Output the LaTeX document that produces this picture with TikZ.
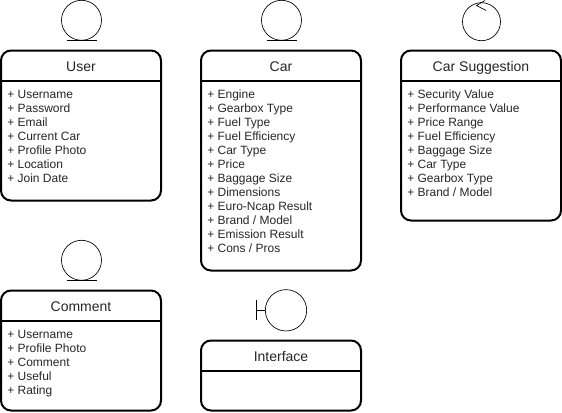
\documentclass[tikz,border=0pt]{standalone}
\usepackage{fontspec}
\setmainfont{Liberation Sans}
\usetikzlibrary{calc}

\tikzset{
  classbox/.style={draw, line width=1.5pt, rounded corners=7.5pt, minimum width=120pt, outer sep=0pt},
  classtitle/.style={font=\fontsize{10.5}{12}\selectfont, text=black!85, inner sep=0pt, anchor=base},
  attrib/.style={font=\fontsize{9}{10.5}\selectfont, text=black!85, anchor=base west, inner sep=0pt},
  glyph/.style={draw, line width=.5pt, circle, minimum size=30pt, inner sep=0pt, outer sep=0pt},
  glyphline/.style={line width=.5pt}
}

\begin{document}
\begin{tikzpicture}[x=.75pt, y=-.75pt]
\useasboundingbox (0,0) rectangle (562,412);

% class boxes: name, centre x, top y, height, title
\foreach \name/\cx/\ytop/\h/\title in {user/81/50.5/150/User, car/281/50.5/220/Car, suggestion/481/50.5/170/Car Suggestion, comment/81/290.5/120/Comment, interface/281/340.5/70/Interface} {
 \node[classbox, minimum height=\h*.75pt] (\name) at (\cx,\ytop+\h/2) {};
 \draw[line width=1.5pt] ($(\name.north west)+(0,-30pt*.75)$) -- ($(\name.north east)+(0,-30pt*.75)$);
 \node[classtitle] (\name title) at ($(\name.north)+(0,-20.5pt*.75)$) {\title};
}

% attributes
\foreach \x [count=\i] in {Username, Password, Email, Current Car, Profile Photo, Location, Join Date} {
 \node[attrib] (userattr\i) at (7,84+14*\i) {+ \x};
}
\foreach \x [count=\i] in {Engine, Gearbox Type, Fuel Type, Fuel Efficiency, Car Type, Price, Baggage Size, Dimensions, Euro-Ncap Result, Brand / Model, Emission Result, Cons / Pros} {
 \node[attrib] (carattr\i) at (207,84+14*\i) {+ \x};
}
\foreach \x [count=\i] in {Security Value, Performance Value, Price Range, Fuel Efficiency, Baggage Size, Car Type, Gearbox Type, Brand / Model} {
 \node[attrib] (sugattr\i) at (407,84+14*\i) {+ \x};
}
\foreach \x [count=\i] in {Username, Profile Photo, Comment, Useful, Rating} {
 \node[attrib] (comattr\i) at (7,324+14*\i) {+ \x};
}

% entity glyphs
\foreach \name/\cx/\cy in {userglyph/81.5/20.3, carglyph/281.5/20.3, comglyph/81.5/260.3} {
 \node[glyph] (\name) at (\cx,\cy) {};
 \draw[glyphline] ($(\name.south)+(-11.25pt,0)$) -- ($(\name.south)+(11.25pt,0)$);
}

% control glyph
\node[glyph, minimum size=28.5pt] (sugglyph) at (481.5,21.7) {};
\coordinate (arrowtop) at (485,0.5);
\coordinate (arrowtip) at (476.5,5.5);
\coordinate (arrowend) at (486,10.5);
\draw[glyphline] (arrowtop) -- (arrowtip) -- (arrowend);

% boundary glyph
\node[glyph, minimum size=31pt] (ifaceglyph) at (286,310.3) {};
\coordinate (bartop) at (256.7,300);
\coordinate (barbot) at (256.7,320);
\coordinate (barmid) at (256.7,310.3);
\draw[glyphline] (bartop) -- (barbot);
\draw[glyphline] (barmid) -- (ifaceglyph.west);
\end{tikzpicture}
\end{document}
